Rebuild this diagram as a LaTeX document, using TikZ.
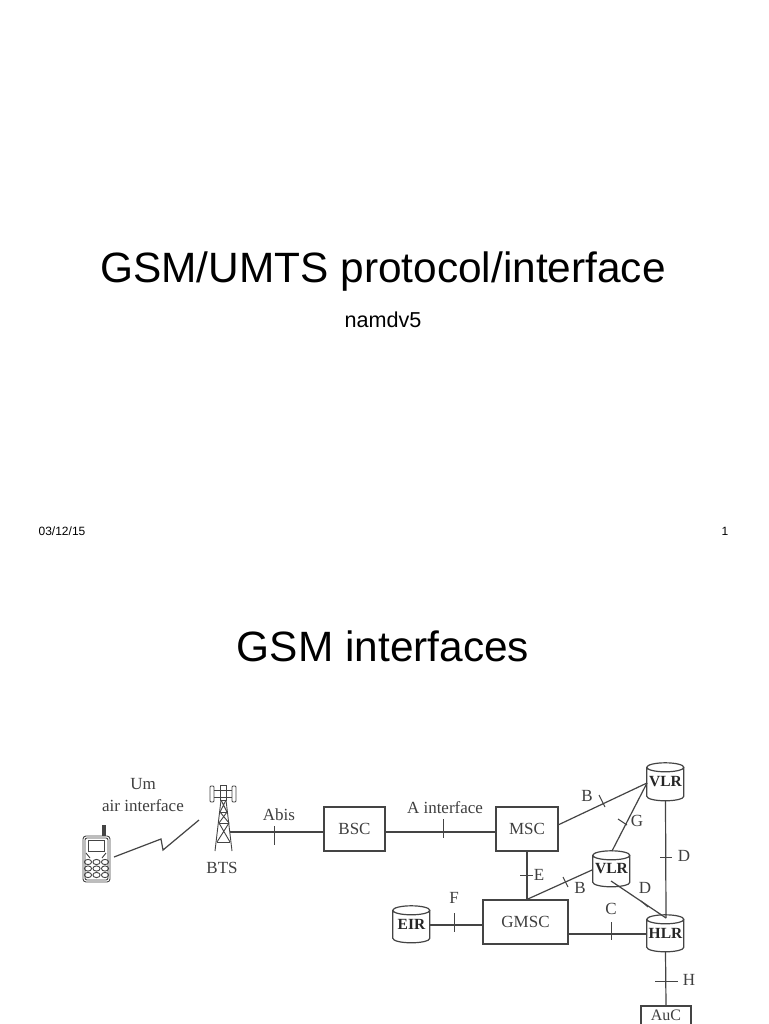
\documentclass[tikz,border=0pt]{standalone}
\usepackage{fontspec}
\setmainfont{Liberation Sans}
\newfontfamily\dserif{Liberation Serif}
\definecolor{ink}{HTML}{444444}
\definecolor{lbl}{HTML}{3F3F3F}
\tikzset{
  x=1pt,y=-1pt,
  slidetext/.style={font=\fontsize{#1}{#1}\selectfont,text=black,inner sep=0pt},
  lab/.style={font=\dserif\fontsize{17}{20}\selectfont,text=lbl,inner sep=0pt,align=center},
  box/.style={draw=ink,line width=1.2pt,rectangle,inner sep=0pt,font=\dserif\fontsize{17}{17}\selectfont,text=lbl},
  db/.style={rectangle,inner sep=0pt,minimum width=37pt,minimum height=38pt,font=\dserif\bfseries\fontsize{15.5}{15.5}\selectfont,text=black!85},
  wire/.style={draw=ink,line width=1.2pt},
  tick/.style={draw=ink,line width=1pt},
  thin part/.style={draw=ink,line width=0.9pt},
}
% outline of a database drum around a named node
\newcommand{\drumb}[2]{%
  \draw[wire] (#1.north west) ++(0,4.5) coordinate (dtl)
    arc[start angle=180,end angle=0,x radius=18.5,y radius=4.5] coordinate (dtr)
    arc[start angle=0,end angle=-180,x radius=18.5,y radius=4.5]
    -- ++(0,#2) arc[start angle=180,end angle=0,x radius=18.5,y radius=4.5] -- (dtr);
}
\begin{document}
\begin{tikzpicture}
\clip (0,0) rectangle (768,1024);
\fill[white] (0,0) rectangle (768,1024);
% slide text
\node[slidetext=42.4] (title) at (383,272) {GSM/UMTS protocol/interface};
\node[slidetext=21.6] (sub) at (383,320) {namdv5};
\node[slidetext=12] (date) at (62,531) {03/12/15};
\node[slidetext=12] (page) at (725,531) {1};
\node[slidetext=42.4] (title2) at (383,646) {GSM interfaces};
% nodes
\node[box,minimum width=61pt,minimum height=44pt] (BSC) at (354.5,829) {BSC};
\node[box,minimum width=62pt,minimum height=44pt] (MSC) at (527,829) {MSC};
\node[box,minimum width=85pt,minimum height=44pt] (GMSC) at (525.5,922) {GMSC};
\node[box,minimum width=50pt,minimum height=40pt] (AuC) at (666,1026) {};
\node[font=\dserif\fontsize{16}{16}\selectfont,text=lbl,inner sep=0pt] (AuCt) at (666,1015.5) {AuC};
\node[db] (VLRa) at (665.5,782) {VLR};
\node[db,minimum height=36pt] (VLRb) at (611.5,869) {VLR};
\node[db,minimum height=37pt] (HLR) at (665.5,933.5) {HLR};
\node[db,minimum height=37pt] (EIR) at (411.5,924.5) {EIR};
\drumb{VLRa}{29}
\drumb{VLRb}{27}
\drumb{HLR}{28}
\drumb{EIR}{28}
% free ends
\coordinate (btsr) at (230,832);
\coordinate (bscw) at (BSC.west |- btsr);
\coordinate (bsce) at (BSC.east |- btsr);
\coordinate (mscw) at (MSC.west |- btsr);
\coordinate (msce) at (558,825);
\coordinate (vla) at (647,783);
\coordinate (vlb) at (612,851);
\coordinate (vlc) at (592,870);
\coordinate (gmn) at (MSC.south |- GMSC.north);
\coordinate (vle) at (611,881);
\coordinate (hlt) at (666,918);
\coordinate (gme) at (GMSC.east |- 0,934);
\coordinate (hlw) at (HLR.west |- 0,934);
\coordinate (eirE) at (EIR.east |- 0,925);
\coordinate (gmw) at (GMSC.west |- 0,925);
% connectors
\draw[wire] (btsr) -- (bscw);
\draw[wire] (bsce) -- (mscw);
\draw[wire] (msce) -- (vla);
\draw[wire] (vla) -- (vlb);
\draw[wire] (VLRa.south) -- (hlt);
\draw[wire] (vlc) -- (gmn);
\draw[wire] (MSC.south) -- (gmn);
\draw[wire] (vle) -- (hlt);
\draw[wire] (gme) -- (hlw);
\draw[wire] (HLR.south) -- (AuC.north);
\draw[wire] (eirE) -- (gmw);
% ticks
\draw[tick] (274,826) -- (274,845);
\draw[tick] (443,819) -- (443,838);
\draw[tick] (599,795) -- (605,807);
\draw[tick] (618,819) -- (627,825);
\draw[tick] (660,857) -- (672,857);
\draw[tick] (520,875) -- (533,875);
\draw[tick] (563,877) -- (568,887);
\draw[tick] (641,901) -- (648,907);
\draw[tick] (611,922) -- (611,940);
\draw[tick] (454,913) -- (454,932);
\draw[tick] (655,981) -- (678,981);
% labels
\node[lab] (lUm) at (143,784) {Um};
\node[lab] (lair) at (143,806) {air interface};
\node[lab] (lBTS) at (222,868) {BTS};
\node[lab] (lAbis) at (279,815) {Abis};
\node[lab] (lA) at (445,808) {A interface};
\node[lab] (lB) at (587,796) {B};
\node[lab] (lG) at (637,821) {G};
\node[lab] (lD) at (684,856) {D};
\node[lab] (lE) at (539,875) {E};
\node[lab] (lB2) at (580,888) {B};
\node[lab] (lD2) at (645,888) {D};
\node[lab] (lC) at (611,909) {C};
\node[lab] (lF) at (454,898) {F};
\node[lab] (lH) at (689,980) {H};
% radio link
\draw[wire] (114,857) -- (161,839) -- (163,850) -- (199,820);
% phone
\draw[thin part,rounded corners=3pt] (83,836) rectangle (110,882);
\draw[thin part,rounded corners=2pt] (85,838) rectangle (108,880);
\fill[ink] (102,825) rectangle (106,836);
\draw[thin part] (88,840) rectangle (104,851);
\foreach \yy in {862,868.5,875}{\foreach \xx in {88,96.5,105}{\draw[thin part] (\xx,\yy) ellipse (3.6 and 2.6);}}
\draw[thin part] (86,853) -- (90,858) (106,853) -- (102,858);
% tower
\draw[thin part] (215,851) -- (221,800) (232,851) -- (226,800);
\draw[thin part] (221,800) -- (226,800) (220,812) -- (227,812) (219,823) -- (229,823) (217,842) -- (230,842);
\draw[thin part] (220,812) -- (229,823) (227,812) -- (219,823);
\draw[thin part] (219,823) -- (230,842) (229,823) -- (217,842);
\draw[thin part] (221,800) -- (227,812) (226,800) -- (220,812);
\draw[thin part] (214,790) -- (232,790) (214,797) -- (232,797);
\draw[thin part,rounded corners=1pt] (210,786) rectangle (214,802);
\draw[thin part,rounded corners=1pt] (232,786) rectangle (236,802);
\draw[thin part] (220,785) rectangle (226,800);
\end{tikzpicture}
\end{document}
